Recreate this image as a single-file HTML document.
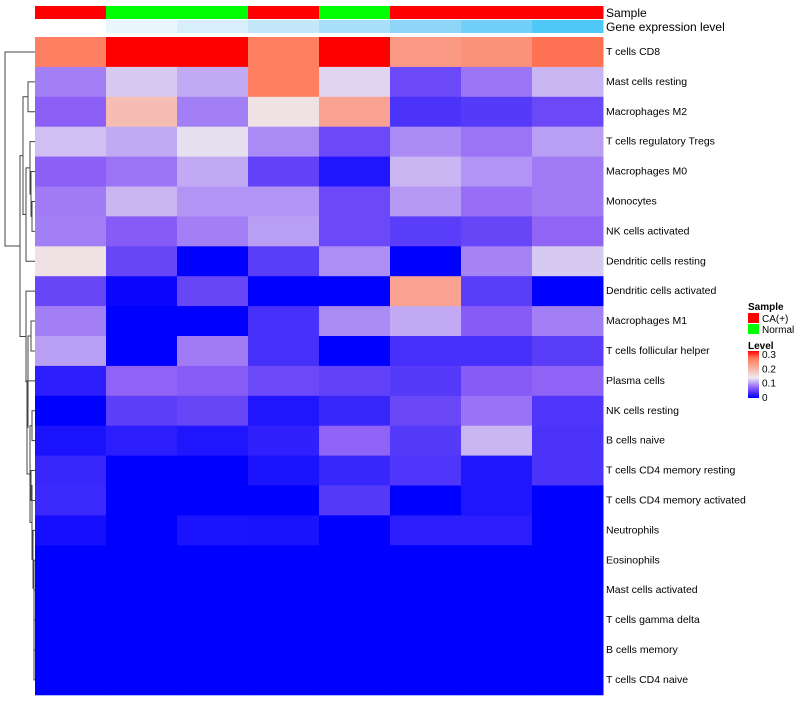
<!DOCTYPE html>
<html><head><meta charset="utf-8"><style>
body{margin:0;background:#fff;}
svg text{font-family:"Liberation Sans",sans-serif;}
</style></head><body>
<svg id="chart" width="800" height="700" xmlns="http://www.w3.org/2000/svg"></svg>
<script>
const rows = ["T cells CD8","Mast cells resting","Macrophages M2","T cells regulatory  Tregs","Macrophages M0","Monocytes","NK cells activated","Dendritic cells resting","Dendritic cells activated","Macrophages M1","T cells follicular helper","Plasma cells","NK cells resting","B cells naive","T cells CD4 memory resting","T cells CD4 memory activated","Neutrophils","Eosinophils","Mast cells activated","T cells gamma delta","B cells memory","T cells CD4 naive"];
const sampleGroups = ["CA(+)","Normal","Normal","CA(+)","Normal","CA(+)","CA(+)","CA(+)"];
const geneColors = ["#ffffff","#eaf6fd","#d8eefb","#c2e8fa","#aadffa","#8fd5f8","#72cff7","#4dc8f7"];
const values = [
[0.25,0.32,0.32,0.25,0.32,0.22,0.23,0.26],
[0.08,0.115,0.10,0.25,0.12,0.05,0.075,0.105],
[0.065,0.18,0.08,0.14,0.21,0.035,0.04,0.05],
[0.11,0.10,0.125,0.085,0.05,0.085,0.075,0.095],
[0.065,0.075,0.10,0.045,0.015,0.105,0.09,0.078],
[0.078,0.105,0.09,0.09,0.05,0.092,0.072,0.078],
[0.08,0.062,0.08,0.095,0.05,0.042,0.048,0.068],
[0.14,0.048,0,0.042,0.087,0,0.082,0.115],
[0.048,0.005,0.048,0,0,0.21,0.042,0],
[0.08,0,0,0.033,0.085,0.10,0.062,0.08],
[0.095,0,0.078,0.033,0,0.033,0.033,0.042],
[0.02,0.067,0.063,0.05,0.045,0.04,0.062,0.067],
[0,0.043,0.048,0.015,0.026,0.049,0.074,0.037],
[0.013,0.02,0.015,0.022,0.067,0.04,0.105,0.035],
[0.026,0,0,0.013,0.026,0.037,0.015,0.035],
[0.028,0,0,0,0.04,0,0.015,0],
[0.01,0,0.013,0.012,0,0.02,0.02,0],
[0,0,0,0,0,0,0,0],
[0,0,0,0,0,0,0,0],
[0,0,0,0,0,0,0,0],
[0,0,0,0,0,0,0,0],
[0,0,0,0,0,0,0,0]];
const legendTicks = ["0.3","0.2","0.1","0"];

const NS="http://www.w3.org/2000/svg";
const svg=document.getElementById('chart');
const X0=35,CW=71,Y0=37,RH=29.9;
function mk(tag,attrs){const e=document.createElementNS(NS,tag);for(const k in attrs)e.setAttribute(k,attrs[k]);svg.appendChild(e);return e;}
function lerp(a,b,t){return Math.round(a+(b-a)*t);}
function mix(c1,c2,t){return `rgb(${lerp(c1[0],c2[0],t)},${lerp(c1[1],c2[1],t)},${lerp(c1[2],c2[2],t)})`;}
const C0=[0,0,255],C1=[140,95,246],C2=[238,234,240],C3=[255,120,88],C4=[255,0,0];
function color(v){const mid=0.13;
 if(v<=mid){const t=Math.max(0,v/mid);return t<0.5?mix(C0,C1,t/0.5):mix(C1,C2,(t-0.5)/0.5);}
 const t=Math.min(1,(v-mid)/(0.3-mid));return t<0.75?mix(C2,C3,t/0.75):mix(C3,C4,(t-0.75)/0.25);}
// annotation bars
sampleGroups.forEach((g,i)=>{const r=mk('rect',{x:X0+i*CW,y:6,width:CW+0.5,height:13,fill:g==="CA(+)"?"#ff0000":"#00ff00"});

});
geneColors.forEach((c,i)=>{const r=mk('rect',{x:X0+i*CW,y:20,width:CW+0.5,height:13,fill:c});

});
let t=mk('text',{x:606,y:17,'font-size':12});t.textContent="Sample";


t=mk('text',{x:606,y:31,'font-size':12});t.textContent="Gene expression level";


// cells
values.forEach((row,r)=>{row.forEach((v,c)=>{const e=mk('rect',{x:X0+c*CW,y:Y0+r*RH,width:CW+0.5,height:RH+0.5,fill:color(v)});

});
const l=mk('text',{x:606,y:Y0+r*RH+RH/2+3,'font-size':10.5});l.textContent=rows[r];

});
// dendrogram
const yc=i=>Y0+i*RH+RH/2;
function node(x,a,b){return {x,a,b};}
const leaf=i=>({leaf:i});
const tree=node(5,leaf(0),node(20,
 node(23,node(28,leaf(1),leaf(2)),node(26,node(30,leaf(3),node(31,leaf(4),node(32,leaf(5),leaf(6)))),leaf(7))),
 node(26,leaf(8),node(28,node(31,leaf(9),leaf(10)),node(27,leaf(11),node(30,node(32,leaf(12),leaf(13)),node(32,node(31,leaf(14),leaf(15)),node(33,leaf(16),node(34,leaf(17),node(34,leaf(18),node(34,leaf(19),node(34,leaf(20),leaf(21)))))))))))));
function draw(n){if(n.leaf!==undefined)return {x:X0,y:yc(n.leaf)};
 const A=draw(n.a),B=draw(n.b);
 const p=mk('path',{d:`M${A.x},${A.y}H${n.x}V${B.y}H${B.x}`,fill:'none',stroke:'#444','stroke-width':1});
 
 
 return {x:n.x,y:(A.y+B.y)/2};}
draw(tree);
// legend
t=mk('text',{x:748,y:310,'font-size':10,'font-weight':'bold'});t.textContent="Sample";


[["CA(+)","#ff0000"],["Normal","#00ff00"]].forEach((d,i)=>{
 const r=mk('rect',{x:748,y:313+i*11,width:11,height:10,fill:d[1]});
 
 
 const tt=mk('text',{x:762,y:322+i*11,'font-size':10});tt.textContent=d[0];
 
 });
t=mk('text',{x:748,y:349,'font-size':10,'font-weight':'bold'});t.textContent="Level";


const defs=mk('defs',{});
defs.innerHTML='<linearGradient id="lg" x1="0" y1="1" x2="0" y2="0"><stop offset="0" stop-color="#0000ff"/><stop offset="0.22" stop-color="#8c5ff6"/><stop offset="0.43" stop-color="#eeeaf0"/><stop offset="0.85" stop-color="#ff7858"/><stop offset="1" stop-color="#ff0000"/></linearGradient>';
const gb=mk('rect',{x:748,y:351,width:11,height:47,fill:'url(#lg)'});


legendTicks.forEach((s,i)=>{const y=354+i*14.3;
 const tt=mk('text',{x:762,y:y+4,'font-size':10});tt.textContent=s;
 
 });
</script>
</body></html>
